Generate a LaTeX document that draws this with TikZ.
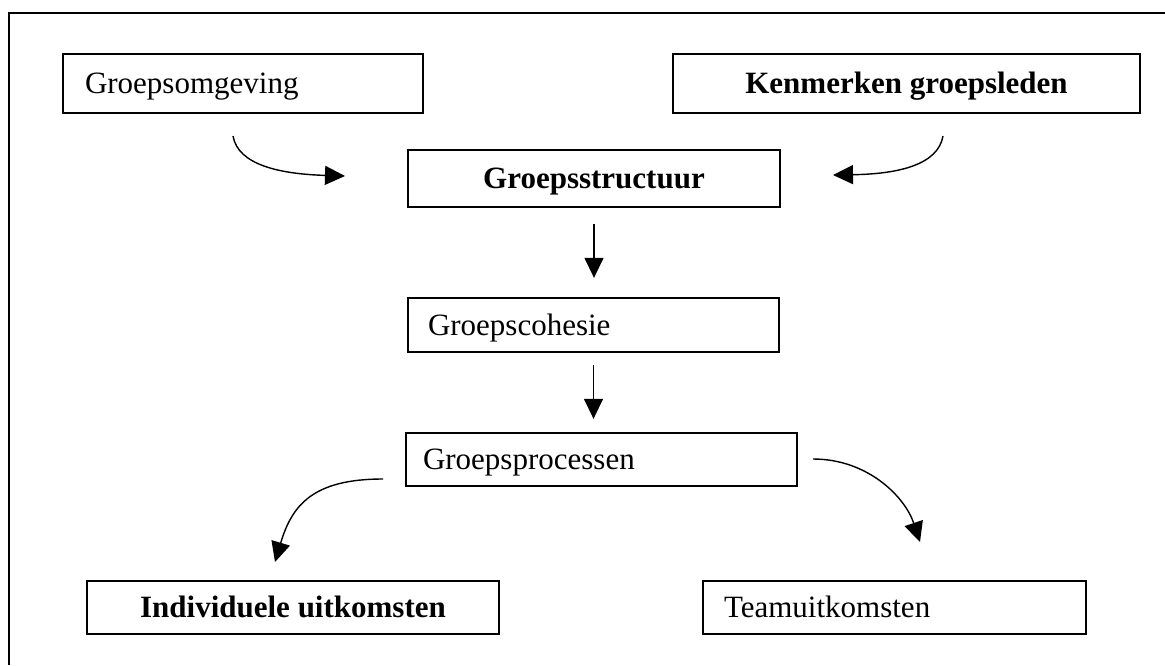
\documentclass[tikz,border=0pt]{standalone}
\usepackage{fontspec}
\setmainfont{Liberation Serif}
\usetikzlibrary{arrows.meta}
\begin{document}
\begin{tikzpicture}[x=1pt,y=-1pt,
  box/.style={draw, line width=1.7pt, inner ysep=0pt,
    text height=22pt, text depth=2pt,
    font=\fontsize{31}{37}\selectfont},
  leftbox/.style={box, align=left},
  midbox/.style={box, align=center, inner xsep=0pt, font=\fontsize{31}{37}\selectfont\bfseries},
  arr/.style={-{Triangle[length=20pt,width=19pt]}, line width=1.4pt},
  frame/.style={line width=1.7pt}]
\useasboundingbox (0,0) rectangle (1165,665);

% open frame: left and top edges
\draw[frame] (9,665) -- (9,13) -- (1165,13);

% boxes
\node[leftbox, minimum width=360pt, minimum height=59pt, text width=316pt, inner xsep=22pt]
  (omg) at (243,83.5) {Groepsomgeving};
\node[midbox, minimum width=467pt, minimum height=59pt]
  (ken) at (906.5,83.5) {Kenmerken groepsleden};
\node[midbox, minimum width=372pt, minimum height=57pt]
  (str) at (594,178.5) {Groepsstructuur};
\node[leftbox, minimum width=371pt, minimum height=54pt, text width=331pt, inner xsep=20pt]
  (coh) at (593.5,325) {Groepscohesie};
\node[leftbox, minimum width=391pt, minimum height=53pt, text width=357pt, inner xsep=17pt]
  (pro) at (601.5,459.5) {Groepsprocessen};
\node[midbox, minimum width=412pt, minimum height=53pt]
  (ind) at (293,607.5) {Individuele uitkomsten};
\node[leftbox, minimum width=383pt, minimum height=53pt, text width=341pt, inner xsep=21pt]
  (team) at (894.5,607.5) {Teamuitkomsten};

% free ends of the curved connectors
\coordinate (omgOut) at (233,136);
\coordinate (strInL) at (345,176);
\coordinate (kenOut) at (943,136);
\coordinate (strInR) at (833,175);
\coordinate (proOutL) at (383,479);
\coordinate (indIn) at (275,562);
\coordinate (proOutR) at (813,459);
\coordinate (teamIn) at (920,542);

% curved connectors
\draw[arr] (omgOut) .. controls +(5,29) and +(-65,-2) .. (strInL);
\draw[arr] (kenOut) .. controls +(-5,29) and +(65,-1) .. (strInR);
\draw[arr] (proOutL) .. controls +(-70,0) and +(17,-57) .. (indIn);
\draw[arr] (proOutR) .. controls +(55,0) and +(-15,-45) .. (teamIn);

% straight connectors down the middle
\draw[arr] ([yshift=-16pt]str.south) -- ++(0,54);
\draw[arr] ([yshift=-12pt]coh.south) -- ++(0,54);
\end{tikzpicture}
\end{document}
